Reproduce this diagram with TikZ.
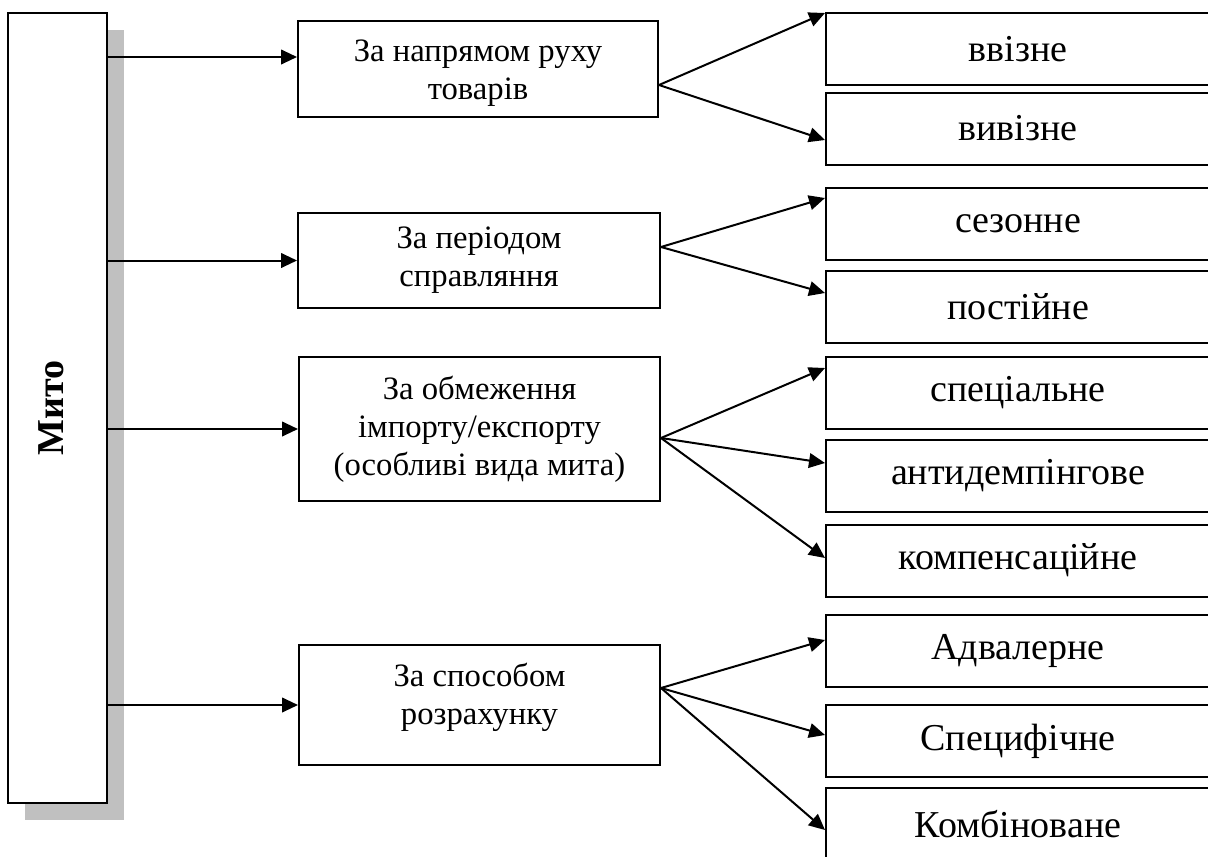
\documentclass[tikz,border=0pt]{standalone}
\usepackage{fontspec}
\setmainfont{Liberation Serif}
\usetikzlibrary{arrows.meta,calc,shadows}
\definecolor{shadowgray}{RGB}{192,192,192}
\begin{document}
\begin{tikzpicture}[x=0.75pt,y=-0.75pt,
  frame/.style={draw=black, line width=1.5pt, fill=white, inner sep=0pt, align=center},
  midbox/.style={frame, font=\fontsize{24.5}{28.5}\selectfont},
  leafbox/.style={frame, minimum width=384*0.75pt, minimum height=72*0.75pt,
                  font=\fontsize{28.5}{33}\selectfont},
  arr/.style={line width=1.5pt, -{Triangle[length=12pt,width=11pt]}},
]
\useasboundingbox (0,0) rectangle (1208,857);

% root box with its shadow
\node[frame, minimum width=99*0.75pt, minimum height=790*0.75pt,
      drop shadow={shadow xshift=12.75pt, shadow yshift=-12.5pt, fill=shadowgray, opacity=1}]
  (mito) at (57.5,408) {\rotatebox{90}{\fontsize{28.5}{33}\selectfont\bfseries Мито\rule[-9pt]{0pt}{9pt}}};

% classification criteria
\node[midbox, minimum width=360*0.75pt, minimum height=96*0.75pt]  (m1) at (478,69)    {\rule{0pt}{22pt}За напрямом руху\\товарів};
\node[midbox, minimum width=362*0.75pt, minimum height=95*0.75pt]  (m2) at (479,260.5) {За періодом\\справляння};
\node[midbox, minimum width=361*0.75pt, minimum height=144*0.75pt] (m3) at (479.5,429) {За обмеження\\імпорту/експорту\\(особливі вида мита)};
\node[midbox, minimum width=361*0.75pt, minimum height=120*0.75pt] (m4) at (479.5,705) {За способом\\розрахунку\rule[-17pt]{0pt}{0pt}};

% kinds of duty
\node[leafbox] (r1)  at (1018,49)    {ввізне};
\node[leafbox] (r2)  at (1018,128.5) {вивізне};
\node[leafbox] (r3)  at (1018,224)   {сезонне};
\node[leafbox] (r4)  at (1018,307)   {постійне};
\node[leafbox] (r5)  at (1018,392.5) {спеціальне};
\node[leafbox] (r6)  at (1018,475.5) {антидемпінгове};
\node[leafbox] (r7)  at (1018,560.5) {компенсаційне};
\node[leafbox] (r8)  at (1018,651)   {Адвалерне};
\node[leafbox] (r9)  at (1018,741)   {Специфічне};
\node[leafbox] (r10) at (1018,824)   {Комбіноване};

% arrows from the root
\coordinate (m1in) at ($(m1.west)+(0,-12)$);
\draw[arr] (mito.east |- m1in) -- (m1in);
\draw[arr] (mito.east |- m2.west) -- (m2.west);
\draw[arr] (mito.east |- m3.west) -- (m3.west);
\draw[arr] (mito.east |- m4.west) -- (m4.west);

% fan-out points
\coordinate (o1) at ($(m1.east)+(0,16)$);
\coordinate (o2) at ($(m2.east)+(0,-13.5)$);
\coordinate (o3) at ($(m3.east)+(0,9)$);
\coordinate (o4) at ($(m4.east)+(0,-17)$);

\draw[arr] (o1) -- ($(r1.north west)+(0,1)$);
\draw[arr] (o1) -- ($(r2.west)+(0,11.5)$);
\draw[arr] (o2) -- ($(r3.west)+(0,-26)$);
\draw[arr] (o2) -- ($(r4.west)+(0,-14)$);
\draw[arr] (o3) -- ($(r5.west)+(0,-24.5)$);
\draw[arr] (o3) -- ($(r6.west)+(0,-12.5)$);
\draw[arr] (o3) -- ($(r7.west)+(0,-2.5)$);
\draw[arr] (o4) -- ($(r8.west)+(0,-11)$);
\draw[arr] (o4) -- ($(r9.west)+(0,-6)$);
\draw[arr] (o4) -- ($(r10.west)+(0,6)$);
\end{tikzpicture}
\end{document}
